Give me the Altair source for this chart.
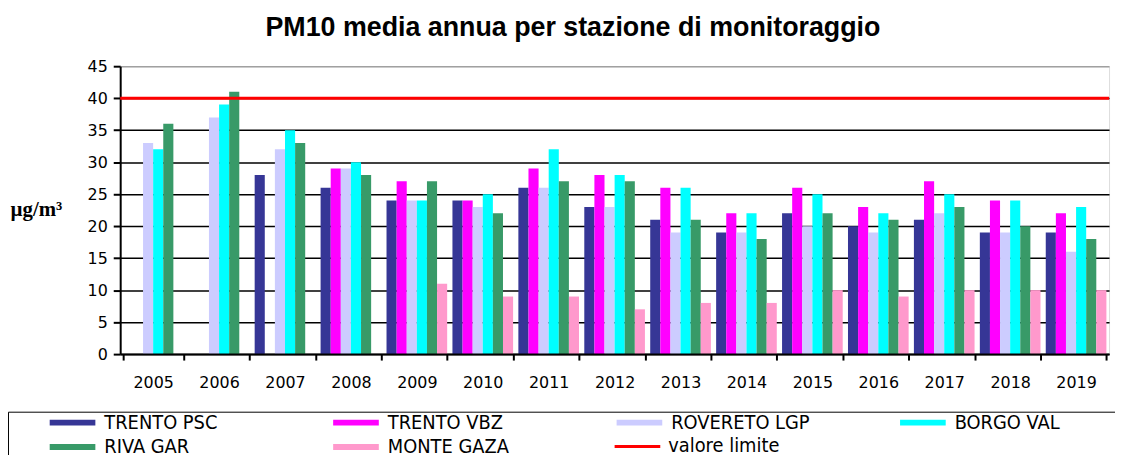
import altair as alt
import pandas as pd

years = [str(y) for y in range(2005, 2020)]
stations = ["TRENTO PSC", "TRENTO VBZ", "ROVERETO LGP", "BORGO VAL", "RIVA GAR", "MONTE GAZA"]
trento_psc = [None, None, 28, 26, 24, 24, 26, 23, 21, 19, 22, 20, 21, 19, 19]
trento_vbz = [None, None, None, 29, 27, 24, 29, 28, 26, 22, 26, 23, 27, 24, 22]
rovereto_lgp = [33, 37, 32, 29, 24, 23, 26, 23, 19, 19, 20, 19, 22, 19, 16]
borgo_val = [32, 39, 35, 30, 24, 25, 32, 28, 26, 22, 25, 22, 25, 24, 23]
riva_gar = [36, 41, 33, 28, 27, 22, 27, 27, 21, 18, 22, 21, 23, 20, 18]
monte_gaza = [None, None, None, None, 11, 9, 9, 7, 8, 8, 10, 9, 10, 10, 10]
station_colors = ["#363696", "#FF00FF", "#CCCCFF", "#00FFFF", "#389A68", "#FF99CC"]
limit_label = "valore limite"
limit_value = 40
limit_color = "#FF0000"
y_ticks = [0, 5, 10, 15, 20, 25, 30, 35, 40, 45]

series = [trento_psc, trento_vbz, rovereto_lgp, borgo_val, riva_gar, monte_gaza]
rows = []
for name, vals in zip(stations, series):
    for yr, v in zip(years, vals):
        if v is not None:
            rows.append({"anno": yr, "stazione": name, "valore": v})
df = pd.DataFrame(rows)
limit_df = pd.DataFrame({"limite": [limit_value], "etichetta": [limit_label]})

swatch = "M-1,-1H14.33V1H-1Z"
swatch_line = "M-1,0H14.33"
legend_font = "'DejaVu Sans Condensed', 'Liberation Sans', sans-serif"

y_axis = alt.Axis(values=y_ticks, title="µg/m³", titleAngle=0, titleX=-111, titleY=144,
                  titleAlign="left", titleBaseline="middle",
                  titleFont="Liberation Serif", titleFontSize=21, titleFontWeight="bold",
                  titleColor="#000000", labelOverlap=False,
                  tickSize=7, labelPadding=6, domainColor="#000000", domainWidth=2,
                  tickColor="#000000", tickWidth=2,
                  gridColor={"condition": {"test": "datum.value === 45", "value": "#A0A0A0"},
                             "value": "#000000"},
                  gridWidth=1.5,
                  labelFont="DejaVu Sans", labelFontSize=16, labelColor="#000000")
y_scale = alt.Scale(domain=[0, 45], nice=False)

bars = alt.Chart(df).mark_bar(strokeWidth=0).encode(
    x=alt.X("anno:N", sort=years,
            scale=alt.Scale(domain=years, paddingInner=0.08, paddingOuter=0.04),
            axis=alt.Axis(title=None, labelAngle=0, tickBand="extent", tickSize=6,
                          labelPadding=15, domainColor="#000000", domainWidth=2,
                          tickColor="#000000", tickWidth=2, grid=False, zindex=1,
                          labelFont="DejaVu Sans", labelFontSize=16, labelColor="#000000")),
    xOffset=alt.XOffset("stazione:N", sort=stations,
                        scale=alt.Scale(domain=stations, paddingInner=0, paddingOuter=0)),
    y=alt.Y("valore:Q", scale=y_scale, axis=y_axis),
    color=alt.Color("stazione:N", sort=stations,
                    scale=alt.Scale(domain=stations, range=station_colors),
                    legend=alt.Legend(orient="none", legendX=-113, legendY=348, columns=4,
                                      direction="horizontal", gridAlign="all",
                                      title=" ", titleOrient="right", titlePadding=80,
                                      symbolType=swatch, symbolSize=36, symbolStrokeWidth=0,
                                      symbolOffset=34, labelOffset=42, columnPadding=49.5,
                                      rowPadding=4.5, padding=1, strokeColor="#000000",
                                      labelFont=legend_font, labelFontSize=20,
                                      labelColor="#000000", labelLimit=300)),
)

limit = alt.Chart(limit_df).mark_rule(strokeWidth=3).encode(
    y=alt.Y("limite:Q", scale=y_scale, axis=y_axis),
    stroke=alt.Stroke("etichetta:N", scale=alt.Scale(domain=[limit_label], range=[limit_color]),
                      legend=alt.Legend(orient="none", legendX=491, legendY=373, title=None,
                                        symbolType=swatch_line, symbolSize=36, symbolStrokeWidth=3,
                                        labelOffset=41, padding=0,
                                        labelFont=legend_font, labelFontSize=20,
                                        labelColor="#000000")),
)

chart = alt.layer(bars, limit).resolve_legend(color="independent", stroke="independent").properties(
    width=996, height=290,
    autosize=alt.AutoSizeParams(type="none"),
    padding={"left": 113, "top": 57, "right": 6, "bottom": 100},
    title=alt.Title("PM10 media annua per stazione di monitoraggio", anchor="middle",
                    font="Liberation Sans", fontSize=27, fontWeight="bold", color="#000000",
                    dx=-42, offset=16),
).configure_view(stroke="#A0A0A0", strokeWidth=1).configure(background="#FFFFFF")

chart.save("out.html", embed_options={"renderer": "svg", "actions": False})
